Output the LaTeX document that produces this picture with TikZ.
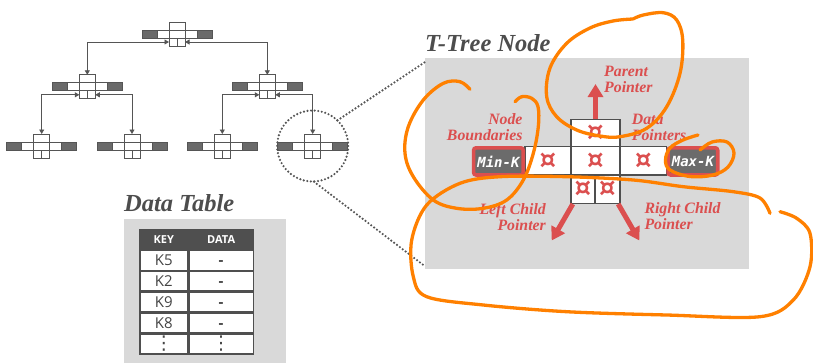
\documentclass[tikz,border=0pt]{standalone}
\usepackage{fontspec}
\setmainfont{Liberation Serif}
\newfontfamily\tabfont{Open Sans}
\newfontfamily\keyfont{DejaVu Sans Mono}
\newfontfamily\symfont{DejaVu Sans}
\usetikzlibrary{arrows.meta}

\definecolor{panelgray}{HTML}{D9D9D9}
\definecolor{linegray}{HTML}{555555}
\definecolor{endgray}{HTML}{6A6A6A}
\definecolor{titlegray}{HTML}{4D4D4D}
\definecolor{accent}{HTML}{DB4F4F}
\definecolor{boxgray}{HTML}{6B6B6B}
\definecolor{tabdark}{HTML}{4F4F4F}
\definecolor{tabtext}{HTML}{444444}
\definecolor{scribble}{HTML}{FF8000}

\tikzset{
  treeline/.style={draw=linegray, line width=1pt},
  tnode/.pic={
    \fill[white] (-35,-4) rectangle (35,4);
    \fill[endgray] (-35,-4) rectangle (-20,4);
    \fill[endgray] (20,-4) rectangle (35,4);
    \draw[treeline] (-35,-4) rectangle (35,4);
    \draw[treeline] (-20,-4) -- (-20,4) (20,-4) -- (20,4);
    \draw[treeline, fill=white] (-8,-12) rectangle (8,-4);
    \draw[treeline] (-8,-4) rectangle (8,4);
    \draw[treeline, fill=white] (-8,4) rectangle (8,12);
    \draw[treeline] (0,4) -- (0,12);
    \coordinate (-top) at (0,-12);
    \coordinate (-bl) at (-8,8);
    \coordinate (-br) at (8,8);
  },
  link/.style={draw=linegray, line width=0.8pt,
    {Triangle[length=4.5pt,width=5pt]}-{Triangle[length=4.5pt,width=5pt]}},
  dotline/.style={draw=linegray, line width=2.4pt, line cap=round,
    dash pattern=on 0pt off 3.6pt},
  panel/.style={fill=panelgray, inner sep=0pt, rectangle},
  heading/.style={font={\fontsize{24.5}{27}\selectfont\bfseries\itshape},
    text=titlegray, inner sep=0pt},
  cell/.style={draw=tabdark, fill=white, line width=1.4pt, inner sep=0pt,
    rectangle},
  ptr/.style={font={\symfont\bfseries\fontsize{26}{26}\selectfont}, text=accent,
    inner sep=0pt},
  boundk/.style={fill=boxgray, draw=accent, line width=3.6pt,
    rounded corners=2.5pt, inner sep=0pt, minimum width=49.6pt,
    minimum height=27.2pt, text=white,
    font={\keyfont\bfseries\itshape\fontsize{14}{14}\selectfont}},
  redlabel/.style={font={\fontsize{15.8}{16}\selectfont\bfseries\itshape},
    text=accent, inner sep=0pt},
  bigarrow/.style={draw=accent, line width=5pt,
    -{Triangle[length=13pt,width=15pt]}},
  tcell/.style={fill=white, inner sep=0pt, minimum height=18.2pt,
    text height=10.7pt, text depth=0pt,
    text=tabtext, font={\tabfont\fontsize{15}{15}\selectfont}},
  dotcell/.style={fill=white, inner sep=0pt, minimum height=18.2pt,
    text=tabtext, font={\symfont\fontsize{19}{19}\selectfont}},
  thead/.style={inner sep=0pt, minimum height=18.2pt, text=white,
    font={\tabfont\bfseries\fontsize{11}{11}\selectfont}},
  ink/.style={draw=scribble, line width=3.3pt, line cap=round, line join=round}
}

\begin{document}
\begin{tikzpicture}[x=1pt, y=-1pt]
\useasboundingbox (0,0) rectangle (813,362);

% ---------------- small T-tree ----------------
\pic (r)  at (177,34)    {tnode};
\pic (a)  at (87.3,86.8) {tnode};
\pic (b)  at (267.3,86.8){tnode};
\pic (c1) at (41.7,146)  {tnode};
\pic (c2) at (132,146)   {tnode};
\pic (c3) at (222.3,146) {tnode};
\pic (c4) at (312.7,146) {tnode};

\draw[link] (r-bl) -| (a-top);
\draw[link] (r-br) -| (b-top);
\draw[link] (a-bl) -| (c1-top);
\draw[link] (a-br) -| (c2-top);
\draw[link] (b-bl) -| (c3-top);
\draw[link] (b-br) -| (c4-top);

% magnifier ring around one leaf
\node[circle, minimum size=71pt, inner sep=0pt] (ring) at (312.7,146) {};
\draw[dotline] (ring.center) circle[radius=35.5];

% ---------------- T-Tree Node detail ----------------
\node[panel, minimum width=324pt, minimum height=211pt] (tpanel) at (587,163.8) {};
\node[heading, anchor=base west] (ttitle) at (425,51.7) {T-Tree Node};

\coordinate (pTop) at (425,62);
\coordinate (pBot) at (424,265.5);
\draw[dotline] (ring.46) -- (pTop);
\draw[dotline] (ring.-88) -- (pBot);

% bar cells
\node[cell, minimum width=46pt,   minimum height=28.3pt] (bL)  at (548,160.85) {};
\node[cell, minimum width=49pt,   minimum height=28.3pt] (bM)  at (595.5,160.85) {};
\node[cell, minimum width=46.7pt, minimum height=28.3pt] (bR)  at (643.35,160.85) {};
\node[cell, minimum width=49pt,   minimum height=27.4pt] (bT)  at (595.5,133) {};
\node[cell, minimum width=24pt,   minimum height=28.3pt] (bBL) at (583,189.15) {};
\node[cell, minimum width=25pt,   minimum height=28.3pt] (bBR) at (607.5,189.15) {};

\node[ptr] at (bL)  {¤};
\node[ptr] at (bM)  {¤};
\node[ptr] at (bR)  {¤};
\node[ptr] at (bT)  {¤};
\node[ptr] at (bBL) {¤};
\node[ptr] at (bBR) {¤};

\node[boundk] (minK) at (498.4,161.4) {Min-K};
\node[boundk] (maxK) at (692.9,161.4) {Max-K};

% pointer arrows
\coordinate (parentTip) at (595.5,84);
\coordinate (leftTip)   at (551.7,240.5);
\coordinate (rightTip)  at (639.3,240.5);
\draw[bigarrow] (bT.north) -- (parentTip);
\draw[bigarrow] ([xshift=2.5pt]bBL.south west) -- (leftTip);
\draw[bigarrow] ([xshift=-2.5pt]bBR.south east) -- (rightTip);

% labels
\node[redlabel, anchor=north west, align=left]  (lParent) at (604,65.5)   {Parent\\Pointer};
\node[redlabel, anchor=north east, align=right] (lBound)  at (522.7,113.8) {Node\\Boundaries};
\node[redlabel, anchor=north west, align=left]  (lData)   at (631.7,113.8) {Data\\Pointers};
\node[redlabel, anchor=north east, align=right] (lLeft)   at (546,202.8)  {Left Child\\Pointer};
\node[redlabel, anchor=north west, align=left]  (lRight)  at (644.3,202.8) {Right Child\\Pointer};

% ---------------- Data Table ----------------
\node[panel, minimum width=162pt, minimum height=148pt, anchor=north west] (dpanel) at (124,218.3) {};
\node[heading, anchor=base west] (dtitle) at (124,211.7) {Data Table};

\fill[tabdark] (139.3,229.3) rectangle (254,355);
\node[thead, minimum width=46.4pt] (hKey)  at (163.8,239.65) {KEY};
\node[thead, minimum width=63.1pt] (hData) at (221.15,239.65) {DATA};

\foreach \k/\v/\rowy [count=\i] in {K5/-/260.45, K2/-/281.35, K9/-/302.25, K8/-/323.15} {
  \node[tcell, minimum width=46.4pt] (key\i) at (163.8,\rowy)  {\k};
  \node[tcell, minimum width=63.1pt] (val\i) at (221.15,\rowy) {\textbf{\v}};
}
\node[dotcell, minimum width=46.4pt] (key5) at (163.8,344.05)  {⋮};
\node[dotcell, minimum width=63.1pt] (val5) at (221.15,344.05) {⋮};

% ---------------- hand-drawn marks ----------------
\draw[ink] plot[smooth, tension=0.6] coordinates {
  (633,19) (613,21) (590,28) (566.7,43.3) (550,68) (546.7,96.7) (556.7,116.7)
  (576.7,130) (600,136) (620,136.7) (646.7,128.3) (666.7,106.7) (680,73.3)
  (682.7,40) (676.7,20) (663.3,12.7) (643.3,15) (633,19)};
\draw[ink] plot[smooth, tension=0.6] coordinates {
  (470,89.3) (460,81.7) (443.3,83.3) (423.3,100) (408.3,126.7) (405,153.3)
  (413.3,176.7) (433.3,200) (456.7,208.3) (483.3,208.3) (506.7,200) (523.3,180)
  (533.3,153.3) (538.3,126.7) (538,106.7) (531.7,98.3) (521.7,96.7) (515,101.7)};
\draw[ink] plot[smooth, tension=0.6] coordinates {
  (700,150) (712,142) (727,142) (734,153) (728,167) (713,175) (690,176.5)
  (670,170) (665.5,160) (670,148) (683,140) (698,135)};
\draw[ink] plot[smooth, tension=0.55] coordinates {
  (770,213.3) (760,198) (733.3,191.7) (683.3,186.7) (633.3,180) (566.7,176.7)
  (500,176.7) (460,183.3) (426.7,205) (411.7,240) (413.3,276.7) (426.7,296.7)
  (483.3,305) (566.7,311.7) (666.7,315) (760,316.7) (793.3,300) (810,266.7)
  (810,233.3) (796.7,218.3) (780,211.7)};
\end{tikzpicture}
\end{document}
